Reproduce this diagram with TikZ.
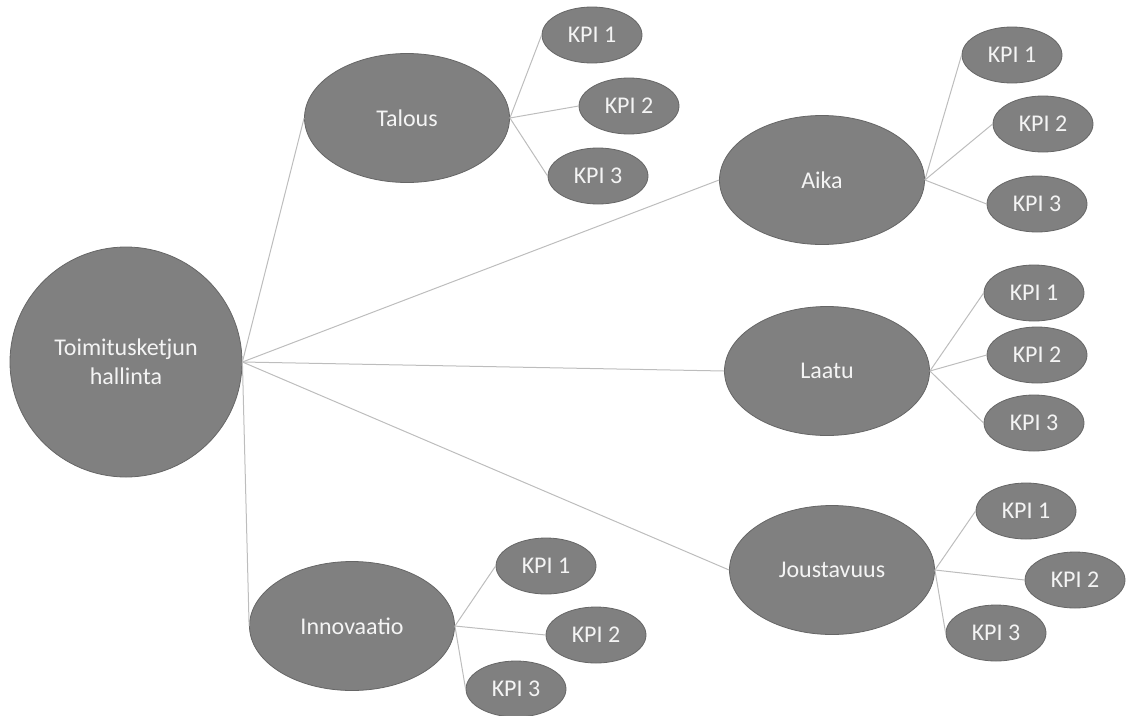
\documentclass[tikz,border=0pt]{standalone}
\usepackage{fontspec}
\setmainfont{Carlito}
\usetikzlibrary{shapes.geometric}
\definecolor{bubble}{HTML}{808080}
\definecolor{bubbleedge}{HTML}{666666}
\definecolor{link}{HTML}{BDBDBD}
\definecolor{label}{HTML}{F4F4F4}
\tikzset{
  bubble/.style={ellipse, fill=bubble, draw=bubbleedge, line width=0.8pt,
    inner sep=0pt, text=label, align=center,
    font=\fontsize{24}{29}\selectfont},
  topic/.style={bubble, minimum width=205pt, minimum height=129pt},
  kpi/.style={bubble, minimum width=100pt, minimum height=56pt},
  link/.style={draw=link, line width=1pt}
}
\begin{document}
\begin{tikzpicture}[x=1pt,y=-1pt]
\useasboundingbox (0,0) rectangle (1126,715);

% root
\node[bubble, minimum width=232pt, minimum height=230pt] (root) at (126,362)
  {Toimitusketjun\\hallinta};

% second level
\node[topic] (talous) at (407,118) {Talous};
\node[topic] (aika)   at (822,180) {Aika};
\node[topic] (laatu)  at (827,371) {Laatu};
\node[topic] (jousto) at (832,570) {Joustavuus};
\node[topic] (innov)  at (352,626) {Innovaatio};

% KPI leaves
\node[kpi] (t1) at (592,35)  {KPI 1};
\node[kpi] (t2) at (629,106) {KPI 2};
\node[kpi] (t3) at (598,176) {KPI 3};

\node[kpi] (a1) at (1012,55)  {KPI 1};
\node[kpi] (a2) at (1043,124) {KPI 2};
\node[kpi] (a3) at (1037,204) {KPI 3};

\node[kpi] (l1) at (1034,293) {KPI 1};
\node[kpi] (l2) at (1037,355) {KPI 2};
\node[kpi] (l3) at (1034,423) {KPI 3};

\node[kpi] (j1) at (1026,511) {KPI 1};
\node[kpi] (j2) at (1075,580) {KPI 2};
\node[kpi] (j3) at (996,633)  {KPI 3};

\node[kpi] (i1) at (546,566) {KPI 1};
\node[kpi] (i2) at (596,635) {KPI 2};
\node[kpi] (i3) at (516,689) {KPI 3};

% links: root to topics, topics to their KPIs
\foreach \c in {talous,aika,laatu,jousto,innov}
  \draw[link] (root.east) -- (\c.west);
\foreach \p/\k in {talous/t,aika/a,laatu/l,jousto/j,innov/i}
  \foreach \n in {1,2,3}
    \draw[link] (\p.east) -- (\k\n.west);
\end{tikzpicture}
\end{document}
